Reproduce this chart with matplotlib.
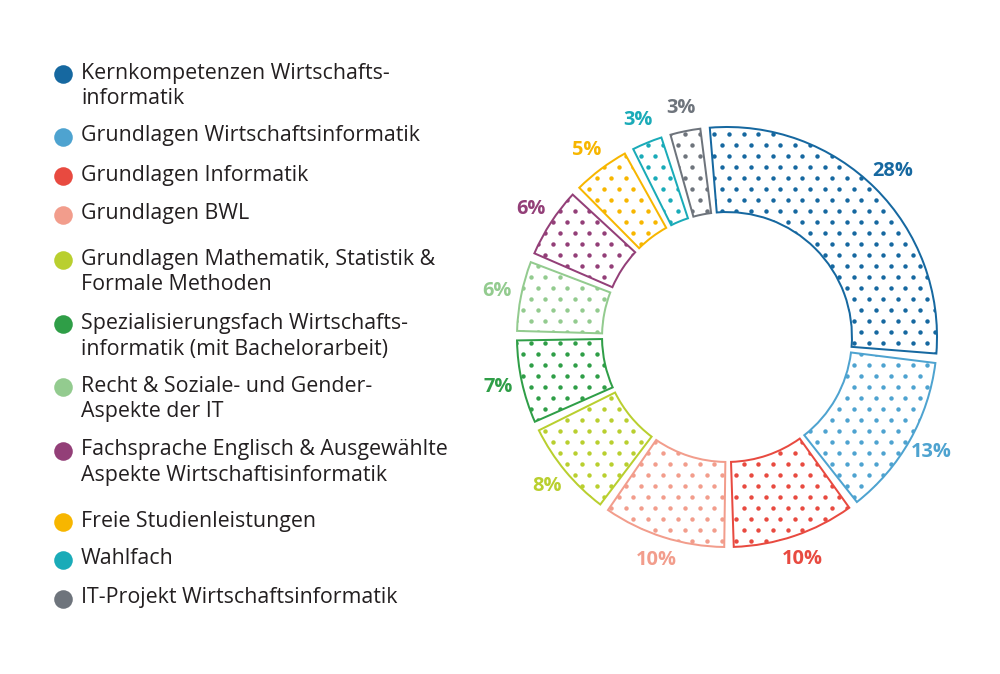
import matplotlib
matplotlib.use("Agg")
import matplotlib.pyplot as plt
import numpy as np

# ---------------- data ----------------
categories = [
    "Kernkompetenzen Wirtschafts-\ninformatik",
    "Grundlagen Wirtschaftsinformatik",
    "Grundlagen Informatik",
    "Grundlagen BWL",
    "Grundlagen Mathematik, Statistik &\nFormale Methoden",
    "Spezialisierungsfach Wirtschafts-\ninformatik (mit Bachelorarbeit)",
    "Recht & Soziale- und Gender-\nAspekte der IT",
    "Fachsprache Englisch & Ausgewählte\nAspekte Wirtschaftisinformatik",
    "Freie Studienleistungen",
    "Wahlfach",
    "IT-Projekt Wirtschaftsinformatik",
]
values = [28, 13, 10, 10, 8, 7, 6, 6, 5, 3, 3]
pct_labels = [f"{v}%" for v in values]
colors = [
    "#1668a0", "#4ea3d0", "#e84a40", "#f29d8c", "#b9cf2f", "#2f9e47",
    "#93cb8f", "#933f78", "#f7b600", "#1aabb8", "#6e747c",
]

# ---------------- figure ----------------
DPI = 80
W, H = 1000, 674
FONT = "Open Sans"
fig = plt.figure(figsize=(W / DPI, H / DPI), dpi=DPI)
fig.patch.set_facecolor("white")

# legend (drawn in pixel coordinates)
lax = fig.add_axes([0, 0, 1, 1])
lax.set_xlim(0, W)
lax.set_ylim(H, 0)
lax.axis("off")
entry_y = [73, 136, 175, 214, 259, 323, 386, 450, 521, 559, 598]
for cat, col, y in zip(categories, colors, entry_y):
    lax.scatter([63], [y + 1], s=280, color=col, linewidths=0, zorder=3)
    for i, line in enumerate(cat.split("\n")):
        lax.text(81, y + i * 26, line, ha="left", va="center",
                 fontsize=19.2, color="#231f20", family=FONT)

# donut
cx, cy = 727, 337
R_px, S_px = 210, 270
pax = fig.add_axes([(cx - S_px) / W, (H - cy - S_px) / H, 2 * S_px / W, 2 * S_px / H])
wedges, texts = pax.pie(
    values, startangle=96, counterclock=False, radius=1.0,
    labels=pct_labels, labeldistance=1.115,
    wedgeprops=dict(width=0.405, facecolor="none", linewidth=1.8),
)
gap = 2.6
for w, col in zip(wedges, colors):
    w.set_edgecolor(col)
    w.set_zorder(3)
    w.set_theta1(w.theta1 + gap / 2)
    w.set_theta2(w.theta2 - gap / 2)

# dotted texture (staggered dot grid clipped to each slice)
lim = S_px / R_px
sp_x, sp_y = 14.7 / R_px, 11.0 / R_px
rows = []
for j, yv in enumerate(np.arange(-lim, lim, sp_y)):
    xs = np.arange(-lim + (sp_x / 2 if j % 2 else 0.0), lim, sp_x)
    rows.append(np.column_stack([xs, np.full_like(xs, yv)]))
grid = np.vstack(rows)
for w, col in zip(wedges, colors):
    pax.scatter(grid[:, 0], grid[:, 1], s=16, color=col, linewidths=0,
                zorder=2, clip_path=w)

for t, col in zip(texts, colors):
    t.set_color(col)
    t.set_ha("center")
    t.set_va("center")
    t.set_fontsize(18)
    t.set_fontweight("bold")
    t.set_family(FONT)
pax.set_xlim(-lim, lim)
pax.set_ylim(-lim, lim)
pax.set_aspect("equal", adjustable="box")
pax.axis("off")

fig.savefig("out.png", dpi=DPI, facecolor="white")
